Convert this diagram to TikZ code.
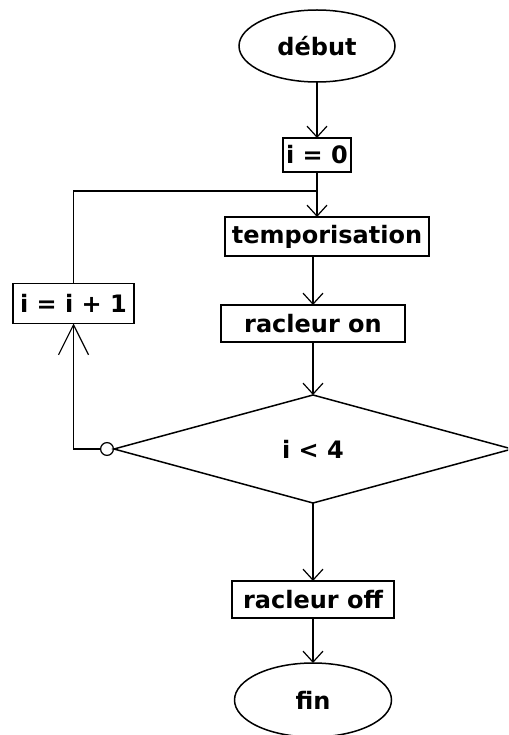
\documentclass[tikz,border=0pt]{standalone}
\usepackage{fontspec}
\setmainfont{DejaVu Sans}
\usetikzlibrary{arrows.meta, positioning, shapes.geometric}

\begin{document}
\begin{tikzpicture}[x=1pt, y=-1pt, font=\fontsize{24}{28}\selectfont\bfseries, line width=1.5pt,
  every node/.style={outer sep=0pt},
  bx/.style={rectangle, draw, inner sep=0pt, minimum height=36pt},
  term/.style={ellipse, draw, inner sep=0pt, minimum width=156pt, minimum height=72pt},
  test/.style={diamond, draw, inner sep=0pt, minimum width=398pt, minimum height=108pt},
  fl/.style={-{Straight Barb[length=11pt, width=20pt, line width=1.2pt]}},
  back/.style={{Circle[open, length=14pt, width=14pt, line width=1.2pt]}-{Straight Barb[length=30pt, width=30pt, line width=1.2pt]}}]
\useasboundingbox (0,0) rectangle (508,735);
\clip (0,0) rectangle (508,735);
\node[term] (debut) at (317,46) {début};
\node[bx, below=56pt of debut, minimum width=68pt, minimum height=34pt] (init) {i = 0};
\node[bx, below=45pt of init, xshift=10pt, minimum width=204pt, minimum height=39pt] (tempo) {temporisation};
\node[bx, below=49pt of tempo, xshift=-14pt, minimum width=184pt, minimum height=37pt] (on) {racleur on};
\node[test, below=53pt of on] (cond) {i < 4};
\node[bx, below=78pt of cond, minimum width=162pt, minimum height=37pt] (off) {racleur off};
\node[term, below=45pt of off, minimum width=157pt, minimum height=74pt] (fin) {fin};
\node[bx, left=87pt of on, yshift=20pt, minimum width=121pt, minimum height=40pt] (inc) {i = i + 1};
\coordinate[below=19pt of init] (join);
% main flow
\draw[fl] (debut) -- (init);
\draw[fl] (init) -- (init |- tempo.north);
\draw[fl] (on |- tempo.south) -- (on);
\draw[fl] (on) -- (cond);
\draw[fl] (cond) -- (off);
\draw[fl] (off) -- (fin);
% loop back
\draw[back] (cond.west) -| (inc);
\draw (inc) |- (join);
\end{tikzpicture}
\end{document}
